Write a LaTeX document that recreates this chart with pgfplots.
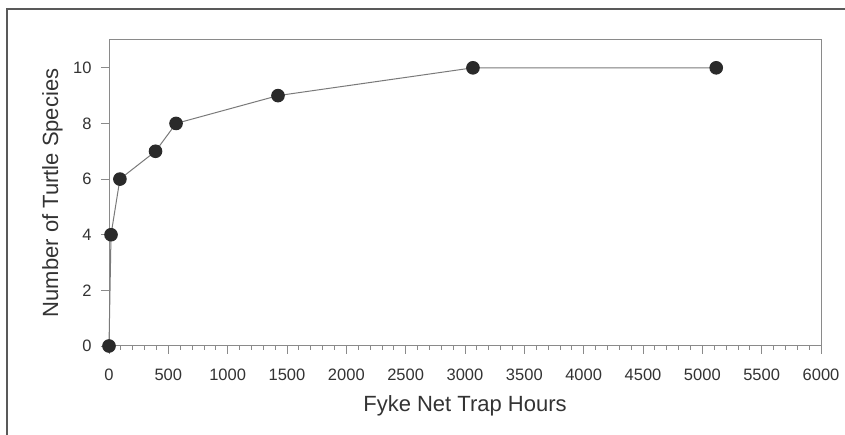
\documentclass[border=0pt]{standalone}
\usepackage{pgfplots}
\pgfplotsset{compat=1.18}
\usepackage{fontspec}
\setmainfont{Liberation Sans}
\definecolor{axisgray}{HTML}{8A8A8A}
\definecolor{linegray}{HTML}{7A7A7A}
\definecolor{markdark}{HTML}{2A2A2A}
\definecolor{textdark}{HTML}{333333}
\begin{document}
\begin{tikzpicture}[x=1pt,y=1pt]
\useasboundingbox (0,0) rectangle (845,435);
\fill[white] (0,0) rectangle (845,435);
\draw[black!65, line width=1.5pt] (7,0) -- (7,426) -- (845,426);
\begin{axis}[
  at={(109pt,89pt)}, anchor=south west,
  scale only axis, width=712pt, height=306pt,
  xmin=0, xmax=6000, ymin=0, ymax=11,
  xtick={0,500,...,6000}, minor x tick num=4,
  ytick={0,2,...,10},
  tick align=outside,
  major tick length=8pt, minor tick length=4pt,
  xtick pos=bottom, ytick pos=left,
  axis line style={axisgray, line width=1pt},
  every tick/.style={axisgray, line width=0.9pt},
  every minor tick/.style={axisgray, line width=0.8pt},
  /pgf/number format/assume math mode=true,
  /pgf/number format/1000 sep={},
  tick label style={font=\fontsize{16.5}{18}\selectfont, text=textdark},
  xticklabel style={yshift=-11pt},
  yticklabel style={xshift=-6pt},
  label style={font=\fontsize{22}{24}\selectfont, text=textdark},
  xlabel={Fyke Net Trap Hours},
  ylabel={Number of Turtle Species},
  xlabel style={at={(axis description cs:0.5,-0.2147)}, anchor=base},
  ylabel style={at={(axis description cs:-0.0716,0.5)}, anchor=base},
  clip=false,
]
\addplot[color=linegray, line width=1pt, mark=*, mark size=6.3pt,
  mark options={fill=markdark, draw=markdark}] coordinates {
  (0,0) (17,4) (92,6) (392,7) (565,8) (1424,9) (3067,10) (5117,10)
};
\end{axis}
\end{tikzpicture}
\end{document}
